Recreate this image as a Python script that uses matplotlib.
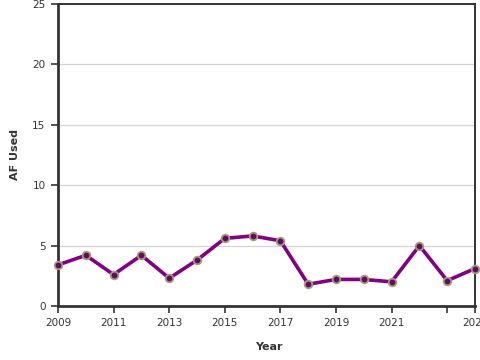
# plot.py
# line chart of AF used per year, saved as out.png

import matplotlib
matplotlib.use("Agg")
import matplotlib.pyplot as plt

# data
years = [2009, 2010, 2011, 2012, 2013, 2014, 2015, 2016,
         2017, 2018, 2019, 2020, 2021, 2022, 2023, 2024]
af_used = [3.4, 4.2, 2.6, 4.2, 2.3, 3.8, 5.6, 5.8,
           5.4, 1.8, 2.2, 2.2, 2.0, 5.0, 2.1, 3.1]

x_ticks = [2009, 2011, 2013, 2015, 2017, 2019, 2021, 2023, 2024]
x_labels = ["2009", "2011", "2013", "2015", "2017", "2019", "2021", "", "2024"]
y_ticks = [0, 5, 10, 15, 20, 25]

fig = plt.figure(figsize=(4.8, 3.6), dpi=100)
ax = fig.add_axes([58 / 480, 1 - 306 / 360, (475 - 58) / 480, (306 - 4) / 360])

# light grid lines at the y ticks
ax.grid(True, axis="y", color="#d4d4d4", linewidth=0.9)
ax.set_axisbelow(True)

ax.plot(years, af_used, color="#800080", linewidth=2.6, clip_on=False,
        marker="o", markersize=5.5, markerfacecolor="#5c0f5c",
        markeredgecolor="#a89a80", markeredgewidth=1.3, zorder=3)

ax.set_xlim(2009, 2024)
ax.set_ylim(0, 25)
ax.set_xticks(x_ticks)
ax.set_xticklabels(x_labels)
ax.set_yticks(y_ticks)
ax.tick_params(labelsize=7.5, colors="#333333", length=5, width=1.2, pad=4)

for side in ["left", "bottom"]:
    ax.spines[side].set_linewidth(2)
    ax.spines[side].set_color("#333333")
for side in ["top", "right"]:
    ax.spines[side].set_linewidth(1.4)
    ax.spines[side].set_color("#333333")

ax.set_xlabel("Year", fontsize=8, fontweight="bold", color="#333333")
ax.set_ylabel("AF Used", fontsize=8, fontweight="bold", color="#333333")
ax.xaxis.set_label_coords(0.505, -0.118)
ax.yaxis.set_label_coords(-0.092, 0.5)

fig.savefig("out.png", dpi=100)
